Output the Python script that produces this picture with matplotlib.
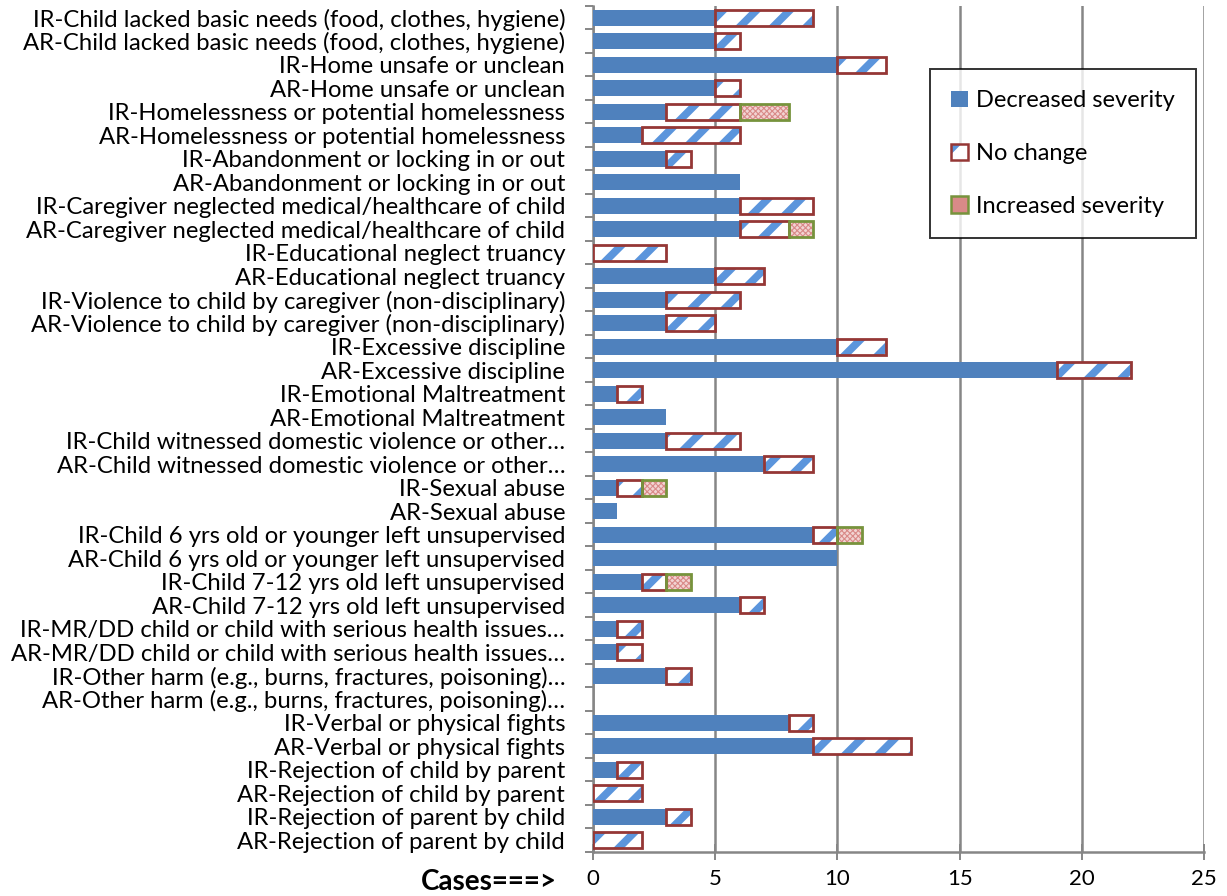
import matplotlib
matplotlib.use("Agg")
import matplotlib.pyplot as plt
from matplotlib.patches import Patch
from matplotlib.legend_handler import HandlerTuple
import numpy as np

categories = [
    "IR-Child lacked basic needs (food, clothes, hygiene)",
    "AR-Child lacked basic needs (food, clothes, hygiene)",
    "IR-Home unsafe or unclean",
    "AR-Home unsafe or unclean",
    "IR-Homelessness or potential homelessness",
    "AR-Homelessness or potential homelessness",
    "IR-Abandonment or locking in or out",
    "AR-Abandonment or locking in or out",
    "IR-Caregiver neglected medical/healthcare of child",
    "AR-Caregiver neglected medical/healthcare of child",
    "IR-Educational neglect truancy",
    "AR-Educational neglect truancy",
    "IR-Violence to child by caregiver (non-disciplinary)",
    "AR-Violence to child by caregiver (non-disciplinary)",
    "IR-Excessive discipline",
    "AR-Excessive discipline",
    "IR-Emotional Maltreatment",
    "AR-Emotional Maltreatment",
    "IR-Child witnessed domestic violence or other\u2026",
    "AR-Child witnessed domestic violence or other\u2026",
    "IR-Sexual abuse",
    "AR-Sexual abuse",
    "IR-Child 6 yrs old or younger left unsupervised",
    "AR-Child 6 yrs old or younger left unsupervised",
    "IR-Child 7-12 yrs old left unsupervised",
    "AR-Child 7-12 yrs old left unsupervised",
    "IR-MR/DD child or child with serious health issues\u2026",
    "AR-MR/DD child or child with serious health issues\u2026",
    "IR-Other harm (e.g., burns, fractures, poisoning)\u2026",
    "AR-Other harm (e.g., burns, fractures, poisoning)\u2026",
    "IR-Verbal or physical fights",
    "AR-Verbal or physical fights",
    "IR-Rejection of child by parent",
    "AR-Rejection of child by parent",
    "IR-Rejection of parent by child",
    "AR-Rejection of parent by child",
]
decreased = [5, 5, 10, 5, 3, 2, 3, 6, 6, 6, 0, 5, 3, 3, 10, 19, 1, 3,
             3, 7, 1, 1, 9, 10, 2, 6, 1, 1, 3, 0, 8, 9, 1, 0, 3, 0]
no_change = [4, 1, 2, 1, 3, 4, 1, 0, 3, 2, 3, 2, 3, 2, 2, 3, 1, 0,
             3, 2, 1, 0, 1, 0, 1, 1, 1, 1, 1, 0, 1, 4, 1, 2, 1, 2]
increased = [0, 0, 0, 0, 2, 0, 0, 0, 0, 1, 0, 0, 0, 0, 0, 0, 0, 0,
             0, 0, 1, 0, 1, 0, 1, 0, 0, 0, 0, 0, 0, 0, 0, 0, 0, 0]
series_names = ["Decreased severity", "No change", "Increased severity"]
xticks = [0, 5, 10, 15, 20, 25]

FONT = "Lato"
plt.rcParams['font.family'] = [FONT, 'DejaVu Sans']
plt.rcParams['hatch.linewidth'] = 5.5

BLUE = "#4F81BD"
STRIPE = "#5B95DC"
RED = "#953735"
GREEN = "#77933C"
PINK_FACE = "#F2D4D3"
PINK_HATCH = "#D98A88"
GRID = "#868686"

fig = plt.figure(figsize=(12.27, 8.96), dpi=100)
ax = fig.add_axes([593/1227, 1-852/896, (1204-593)/1227, (852-6)/896])

n = len(categories)
y = np.arange(n)
dec = np.array(decreased, float)
nc = np.array(no_change, float)
inc = np.array(increased, float)
h = 0.66

ax.barh(y, dec, height=h, color=BLUE, linewidth=0, zorder=3)
mask = nc > 0
ax.barh(y[mask], nc[mask], left=dec[mask], height=h, facecolor="white",
        edgecolor=STRIPE, hatch="/", linewidth=0, zorder=3)
ax.barh(y[mask], nc[mask], left=dec[mask], height=h, fill=False,
        edgecolor=RED, linewidth=2.0, zorder=4)
mask2 = inc > 0
with plt.rc_context({'hatch.linewidth': 0.8}):
    ax.barh(y[mask2], inc[mask2], left=(dec + nc)[mask2], height=h,
            facecolor=PINK_FACE, edgecolor=PINK_HATCH, hatch="xxxxxx",
            linewidth=0, zorder=3)
ax.barh(y[mask2], inc[mask2], left=(dec + nc)[mask2], height=h, fill=False,
        edgecolor=GREEN, linewidth=2.0, zorder=4)

ax.set_xlim(0, 25)
ax.set_ylim(n - 0.5, -0.5)
ax.set_xticks(xticks)
ax.set_xticklabels([str(t) for t in xticks], fontsize=16)
ax.tick_params(axis='x', direction='inout', length=12, width=1.4, color=GRID, pad=6)

ax.set_yticks(np.arange(n + 1) - 0.5)
ax.set_yticklabels([])
ax.tick_params(axis='y', which='major', direction='out', length=6, width=1.4, color=GRID)
ax.set_yticks(y, minor=True)
ax.set_yticklabels(categories, minor=True, fontsize=17.2)
ax.tick_params(axis='y', which='minor', length=0, pad=20)

ax.grid(axis='x', color=GRID, linewidth=1.8, zorder=0)
ax.set_axisbelow(True)
for s in ['top', 'right']:
    ax.spines[s].set_visible(False)
for s in ['left', 'bottom']:
    ax.spines[s].set_color(GRID)
    ax.spines[s].set_linewidth(1.8)

fig.text(557/1227, 1-882/896, "Cases===>", ha='right', va='center',
         fontsize=20, fontweight='bold')

h_dec = Patch(facecolor=BLUE, edgecolor=BLUE, linewidth=0)
h_nc1 = Patch(facecolor="white", edgecolor=STRIPE, hatch="/", linewidth=0)
h_nc2 = Patch(fill=False, edgecolor=RED, linewidth=1.8)
with plt.rc_context({'hatch.linewidth': 0.8}):
    h_in1 = Patch(facecolor=PINK_FACE, edgecolor=PINK_HATCH, hatch="xxxxxx", linewidth=0)
h_in2 = Patch(fill=False, edgecolor=GREEN, linewidth=1.8)
leg = ax.legend([h_dec, (h_nc1, h_nc2), (h_in1, h_in2)], series_names,
                handler_map={tuple: HandlerTuple(ndivide=1, pad=0)},
                loc='upper left', bbox_to_anchor=((930-593)/611, (852-69)/846),
                borderaxespad=0, frameon=True, fancybox=False, fontsize=17,
                handlelength=0.7, handleheight=0.7, handletextpad=0.35,
                labelspacing=1.35, borderpad=0.9)
leg.get_frame().set_edgecolor('black')
leg.get_frame().set_linewidth(1.4)
leg.set_zorder(10)

fig.savefig("out.png", dpi=100)
